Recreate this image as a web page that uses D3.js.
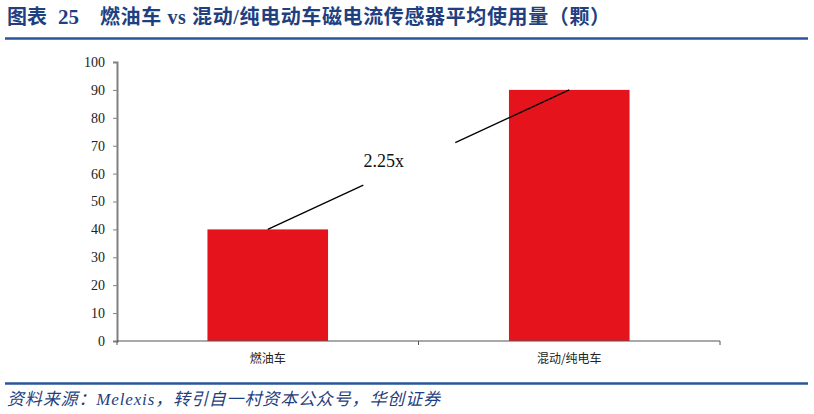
<!DOCTYPE html>
<html>
<head>
<meta charset="utf-8">
<script src="https://cdn.jsdelivr.net/npm/d3@7"></script>
<style>
  body { margin: 0; background: #fff; }
  svg { display: block; }
</style>
</head>
<body>
<div id="chart"></div>
<script>
// data
const categories = ["燃油车", "混动/纯电车"];
const values = [40, 90];
const yTicks = [0, 10, 20, 30, 40, 50, 60, 70, 80, 90, 100];
const ratioLabel = "2.25x";

const width = 814;
const height = 414;
const navy = "#1f3f80";
const barColor = "#e5141c";

const svg = d3.select("#chart")
  .append("svg")
  .attr("width", width)
  .attr("height", height);

// title
svg.append("text")
  .attr("x", 7).attr("y", 24)
  .attr("font-family", "Noto Sans CJK SC")
  .attr("font-weight", "bold")
  .attr("font-size", 20)
  .attr("fill", navy)
  .text("图表");
svg.append("text")
  .attr("x", 58).attr("y", 24)
  .attr("font-family", "Liberation Serif")
  .attr("font-weight", "bold")
  .attr("font-size", 21)
  .attr("fill", navy)
  .text("25");
svg.append("text")
  .attr("x", 100).attr("y", 24)
  .attr("font-family", "'Liberation Serif', 'Noto Sans CJK SC'")
  .attr("font-weight", "bold")
  .attr("font-size", 20)
  .attr("fill", navy)
  .attr("textLength", 510)
  .attr("lengthAdjust", "spacing")
  .text("燃油车 vs 混动/纯电动车磁电流传感器平均使用量（颗）");

svg.append("line")
  .attr("x1", 5).attr("x2", 808)
  .attr("y1", 38.5).attr("y2", 38.5)
  .attr("stroke", "#2a5699")
  .attr("stroke-width", 2.5);

// scales
const x = d3.scaleBand()
  .domain(categories)
  .range([117, 720])
  .paddingInner(0.6)
  .paddingOuter(0.3);

const y = d3.scaleLinear()
  .domain([0, 100])
  .range([341, 62]);

// bars
svg.selectAll("rect.bar")
  .data(values)
  .enter().append("rect")
  .attr("class", "bar")
  .attr("x", (d, i) => x(categories[i]))
  .attr("y", d => y(d))
  .attr("width", x.bandwidth())
  .attr("height", d => y(0) - y(d))
  .attr("fill", barColor);

// y axis
const yAxis = svg.append("g")
  .attr("transform", "translate(117,0)")
  .call(d3.axisLeft(y).tickValues(yTicks).tickSize(4).tickPadding(8).tickFormat(d3.format("d")));
yAxis.select(".domain").attr("stroke", "#808080").attr("stroke-width", 2);
yAxis.selectAll(".tick line").attr("stroke", "#808080");
yAxis.selectAll("text")
  .attr("font-family", "Liberation Serif")
  .attr("font-size", 14)
  .attr("fill", "#222");

// x axis: category boundaries
const step = x.step();
const x0 = x.range()[0];
const xEdges = d3.range(categories.length + 1).map(i => x0 + i * step);
svg.append("line")
  .attr("x1", x0).attr("x2", x.range()[1])
  .attr("y1", y(0)).attr("y2", y(0))
  .attr("stroke", "#555").attr("stroke-width", 1.2);
svg.selectAll("line.xtick")
  .data(xEdges)
  .enter().append("line")
  .attr("class", "xtick")
  .attr("x1", d => d).attr("x2", d => d)
  .attr("y1", y(0)).attr("y2", y(0) + 4)
  .attr("stroke", "#555");
svg.selectAll("text.xlabel")
  .data(categories)
  .enter().append("text")
  .attr("class", "xlabel")
  .attr("x", d => x(d) + x.bandwidth() / 2)
  .attr("y", y(0) + 22)
  .attr("text-anchor", "middle")
  .attr("font-family", "Noto Sans CJK SC")
  .attr("font-size", 12)
  .attr("fill", "#222")
  .text(d => d);

// ratio annotation: line from bar top to bar top, broken around the label
const p1 = [x(categories[0]) + x.bandwidth() / 2, y(values[0])];
const p2 = [x(categories[1]) + x.bandwidth() / 2, y(values[1])];
const at = t => [p1[0] + (p2[0] - p1[0]) * t, p1[1] + (p2[1] - p1[1]) * t];
[[0, 0.317], [0.622, 1]].forEach(([a, b]) => {
  const s = at(a), e = at(b);
  svg.append("line")
    .attr("x1", s[0]).attr("y1", s[1])
    .attr("x2", e[0]).attr("y2", e[1])
    .attr("stroke", "#000")
    .attr("stroke-width", 1.3);
});
const lp = at(0.385);
svg.append("text")
  .attr("x", lp[0])
  .attr("y", lp[1] - 9)
  .attr("text-anchor", "middle")
  .attr("font-family", "Liberation Serif")
  .attr("font-size", 18)
  .attr("fill", "#111")
  .text(ratioLabel);

// footer
svg.append("line")
  .attr("x1", 5).attr("x2", 808)
  .attr("y1", 383.5).attr("y2", 383.5)
  .attr("stroke", "#2a5699")
  .attr("stroke-width", 2.5);
svg.append("text")
  .attr("x", 7).attr("y", 405)
  .attr("font-family", "'Liberation Serif', 'Noto Sans CJK SC'")
  .attr("font-style", "italic")
  .attr("font-size", 17)
  .attr("fill", navy)
  .attr("textLength", 433)
  .attr("lengthAdjust", "spacing")
  .text("资料来源：Melexis，转引自一村资本公众号，华创证券");
</script>
</body>
</html>
